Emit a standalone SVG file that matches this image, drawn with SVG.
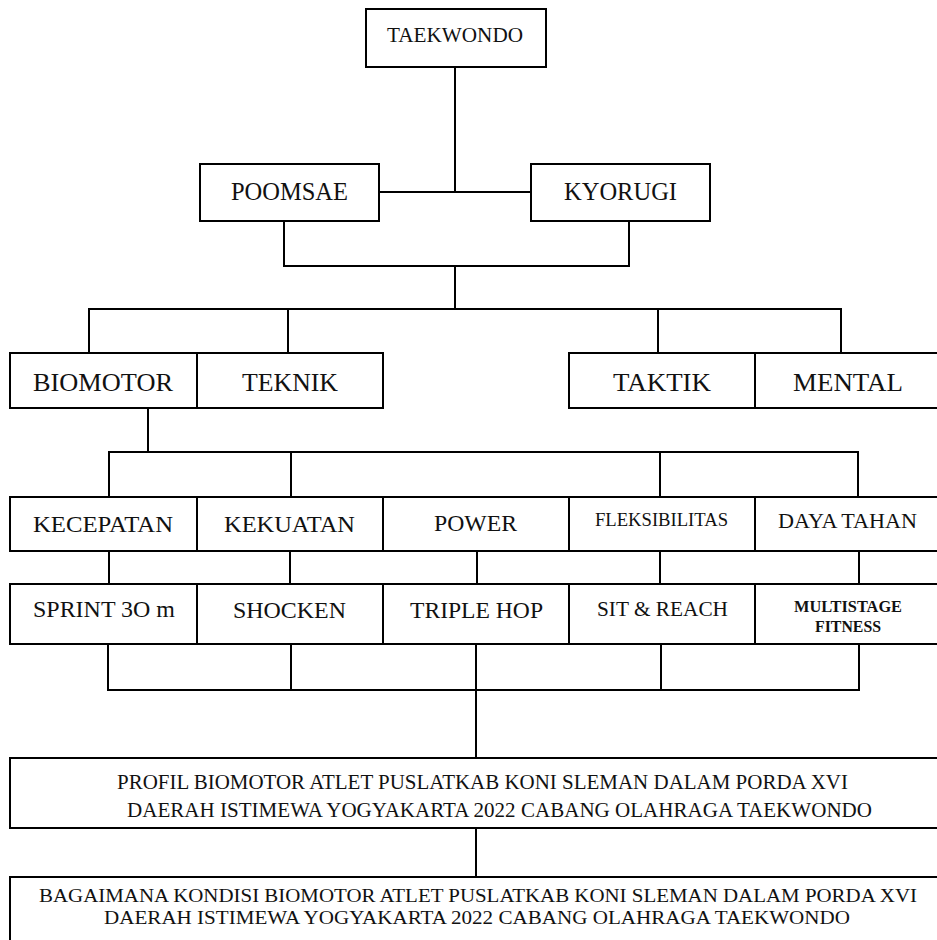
<svg xmlns="http://www.w3.org/2000/svg" width="937" height="940" viewBox="0 0 937 940">
<style>
  .box { fill: #fff; stroke: #000; stroke-width: 2; }
  .ln { fill: none; stroke: #000; stroke-width: 2; }
  text { font-family: "Liberation Serif", "Times New Roman", serif; fill: #111; text-anchor: middle; }
  .f22 { font-size: 22px; }
  .f25 { font-size: 25px; }
  .f26 { font-size: 26px; }
  .f24 { font-size: 24px; }
  .f21 { font-size: 21.5px; }
  .f18 { font-size: 18.5px; }
  .fb { font-size: 16px; font-weight: bold; }
  .f20 { font-size: 21px; }
  .f19 { font-size: 19px; }
</style>
<rect x="0" y="0" width="937" height="940" fill="#fff"/>

<g id="connectors" class="ln">
  <path d="M455 67 V192 M379 192 H531"/>
  <path d="M284 221 V266 H629 V221 M455 266 V309"/>
  <path d="M89 353 V309 H841 V353 M288 309 V353 M658 309 V353"/>
  <path d="M148 408 V452 M109 497 V452 H858 V497 M291 452 V497 M660 452 V497"/>
  <path d="M109 551 V584 M290 551 V584 M477 551 V584 M660 551 V584 M859 551 V584"/>
  <path d="M108 644 V690 H859 V644 M291 644 V690 M476 644 V690 M661 644 V690"/>
  <path d="M476 690 V758 M476 828 V877"/>
</g>

<g id="taekwondo"><rect class="box" x="366" y="9" width="180" height="58"/><text class="f22" x="455" y="42" textLength="136" lengthAdjust="spacingAndGlyphs">TAEKWONDO</text></g>
<g id="poomsae"><rect class="box" x="200" y="164" width="179" height="57"/><text class="f25" x="289.5" y="200" textLength="117" lengthAdjust="spacingAndGlyphs">POOMSAE</text></g>
<g id="kyorugi"><rect class="box" x="531" y="164" width="179" height="57"/><text class="f25" x="620.5" y="200" textLength="113" lengthAdjust="spacingAndGlyphs">KYORUGI</text></g>

<g id="biomotor"><rect class="box" x="10" y="353" width="187" height="55"/><text class="f26" x="103" y="391" textLength="140" lengthAdjust="spacingAndGlyphs">BIOMOTOR</text></g>
<g id="teknik"><rect class="box" x="197" y="353" width="186" height="55"/><text class="f26" x="290" y="391" textLength="96" lengthAdjust="spacingAndGlyphs">TEKNIK</text></g>
<g id="taktik"><rect class="box" x="569" y="353" width="186" height="55"/><text class="f26" x="662" y="391" textLength="98" lengthAdjust="spacingAndGlyphs">TAKTIK</text></g>
<g id="mental"><rect class="box" x="755" y="353" width="200" height="55"/><text class="f26" x="848" y="391" textLength="110" lengthAdjust="spacingAndGlyphs">MENTAL</text></g>

<g id="kecepatan"><rect class="box" x="10" y="497" width="187" height="54"/><text class="f24" x="103" y="532" textLength="140" lengthAdjust="spacingAndGlyphs">KECEPATAN</text></g>
<g id="kekuatan"><rect class="box" x="197" y="497" width="186" height="54"/><text class="f24" x="289.5" y="532" textLength="131" lengthAdjust="spacingAndGlyphs">KEKUATAN</text></g>
<g id="power"><rect class="box" x="383" y="497" width="186" height="54"/><text class="f24" x="475.5" y="531" textLength="83" lengthAdjust="spacingAndGlyphs">POWER</text></g>
<g id="fleksibilitas"><rect class="box" x="569" y="497" width="186" height="54"/><text class="f18" x="661.5" y="526" textLength="133" lengthAdjust="spacingAndGlyphs">FLEKSIBILITAS</text></g>
<g id="daya-tahan"><rect class="box" x="755" y="497" width="200" height="54"/><text class="f21" x="847.5" y="528" textLength="139" lengthAdjust="spacingAndGlyphs">DAYA TAHAN</text></g>

<g id="sprint"><rect class="box" x="10" y="584" width="187" height="60"/><text class="f24" x="104" y="617" textLength="142" lengthAdjust="spacingAndGlyphs">SPRINT 3O m</text></g>
<g id="shocken"><rect class="box" x="197" y="584" width="186" height="60"/><text class="f24" x="289.5" y="618" textLength="113" lengthAdjust="spacingAndGlyphs">SHOCKEN</text></g>
<g id="triple-hop"><rect class="box" x="383" y="584" width="186" height="60"/><text class="f24" x="476.5" y="618" textLength="133" lengthAdjust="spacingAndGlyphs">TRIPLE HOP</text></g>
<g id="sit-reach"><rect class="box" x="569" y="584" width="186" height="60"/><text class="f21" x="662.5" y="616" textLength="131" lengthAdjust="spacingAndGlyphs">SIT &amp; REACH</text></g>
<g id="multistage"><rect class="box" x="755" y="584" width="200" height="60"/><text class="fb" x="848" y="612" textLength="108" lengthAdjust="spacingAndGlyphs">MULTISTAGE</text><text class="fb" x="848" y="632" textLength="66" lengthAdjust="spacingAndGlyphs">FITNESS</text></g>

<g id="profil"><rect class="box" x="10" y="758" width="945" height="70"/><text class="f20" x="482.5" y="789" textLength="731" lengthAdjust="spacingAndGlyphs">PROFIL BIOMOTOR ATLET PUSLATKAB KONI SLEMAN DALAM PORDA XVI</text><text class="f20" x="499.5" y="817" textLength="745" lengthAdjust="spacingAndGlyphs">DAERAH ISTIMEWA YOGYAKARTA 2022 CABANG OLAHRAGA TAEKWONDO</text></g>
<g id="bagaimana"><rect class="box" x="10" y="877" width="945" height="80"/><text class="f19" x="478" y="902" textLength="878" lengthAdjust="spacingAndGlyphs">BAGAIMANA KONDISI BIOMOTOR ATLET PUSLATKAB KONI SLEMAN DALAM PORDA XVI</text><text class="f19" x="477" y="924" textLength="746" lengthAdjust="spacingAndGlyphs">DAERAH ISTIMEWA YOGYAKARTA 2022 CABANG OLAHRAGA TAEKWONDO</text></g>
</svg>
